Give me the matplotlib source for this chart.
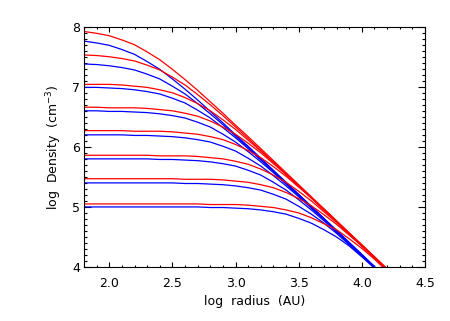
import numpy as np
import matplotlib
matplotlib.use('Agg')
import matplotlib.pyplot as plt
from matplotlib.ticker import MultipleLocator

# log radius grid (AU), shared by all profiles
log_r = [1.8, 1.9, 2.0, 2.1, 2.2, 2.3, 2.4, 2.5, 2.6, 2.7, 2.8, 2.9,
         3.0, 3.1, 3.2, 3.3, 3.4, 3.5, 3.6, 3.7, 3.8, 3.9, 4.0, 4.1]
log_r_red = log_r + [4.2]

# blue profiles, log density (cm^-3)
blue_1 = [7.76, 7.73, 7.69, 7.62, 7.54, 7.42, 7.29, 7.13, 6.96, 6.78, 6.59, 6.40,
          6.20, 6.01, 5.81, 5.61, 5.41, 5.21, 5.01, 4.81, 4.61, 4.41, 4.21, 4.01]
blue_2 = [7.38, 7.37, 7.35, 7.32, 7.28, 7.21, 7.13, 7.01, 6.88, 6.72, 6.55, 6.37,
          6.18, 5.99, 5.79, 5.60, 5.40, 5.20, 5.00, 4.80, 4.60, 4.40, 4.20, 4.00]
blue_3 = [6.99, 6.99, 6.98, 6.97, 6.95, 6.92, 6.88, 6.81, 6.73, 6.61, 6.48, 6.32,
          6.15, 5.97, 5.78, 5.59, 5.39, 5.20, 5.00, 4.80, 4.60, 4.40, 4.20, 4.00]
blue_4 = [6.60, 6.60, 6.59, 6.59, 6.58, 6.57, 6.55, 6.52, 6.48, 6.41, 6.33, 6.21,
          6.08, 5.92, 5.75, 5.57, 5.38, 5.19, 4.99, 4.80, 4.60, 4.40, 4.20, 4.00]
blue_5 = [6.20, 6.20, 6.20, 6.20, 6.19, 6.19, 6.18, 6.17, 6.15, 6.12, 6.08, 6.01,
          5.93, 5.81, 5.68, 5.52, 5.35, 5.17, 4.98, 4.79, 4.59, 4.40, 4.20, 4.00]
blue_6 = [5.80, 5.80, 5.80, 5.80, 5.80, 5.80, 5.79, 5.79, 5.78, 5.77, 5.75, 5.72,
          5.68, 5.61, 5.53, 5.41, 5.28, 5.12, 4.95, 4.77, 4.58, 4.39, 4.19, 4.00]
blue_7 = [5.40, 5.40, 5.40, 5.40, 5.40, 5.40, 5.40, 5.40, 5.39, 5.39, 5.38, 5.37,
          5.35, 5.32, 5.28, 5.21, 5.13, 5.01, 4.88, 4.73, 4.56, 4.37, 4.18, 3.99]
blue_8 = [5.00, 5.00, 5.00, 5.00, 5.00, 5.00, 5.00, 5.00, 5.00, 5.00, 4.99, 4.99,
          4.98, 4.97, 4.95, 4.92, 4.88, 4.81, 4.73, 4.62, 4.50, 4.35, 4.17, 3.98]

# red profiles, log density (cm^-3)
red_1 = [7.92, 7.89, 7.85, 7.78, 7.70, 7.58, 7.45, 7.29, 7.12, 6.94, 6.75, 6.56,
         6.36, 6.17, 5.97, 5.77, 5.57, 5.37, 5.17, 4.97, 4.77, 4.57, 4.37, 4.17, 3.97]
red_2 = [7.53, 7.52, 7.50, 7.47, 7.43, 7.36, 7.28, 7.16, 7.03, 6.87, 6.70, 6.52,
         6.33, 6.14, 5.94, 5.75, 5.55, 5.35, 5.15, 4.95, 4.75, 4.55, 4.35, 4.15, 3.95]
red_3 = [7.04, 7.04, 7.04, 7.03, 7.01, 6.99, 6.95, 6.90, 6.82, 6.72, 6.60, 6.45,
         6.29, 6.11, 5.93, 5.74, 5.54, 5.35, 5.15, 4.95, 4.75, 4.55, 4.35, 4.15, 3.95]
red_4 = [6.66, 6.66, 6.65, 6.65, 6.65, 6.64, 6.62, 6.60, 6.56, 6.51, 6.43, 6.33,
         6.21, 6.06, 5.90, 5.72, 5.54, 5.35, 5.15, 4.96, 4.76, 4.56, 4.36, 4.16, 3.96]
red_5 = [6.27, 6.27, 6.27, 6.27, 6.26, 6.26, 6.26, 6.25, 6.23, 6.21, 6.17, 6.12,
         6.04, 5.94, 5.82, 5.67, 5.51, 5.33, 5.15, 4.96, 4.76, 4.56, 4.37, 4.17, 3.97]
red_6 = [5.86, 5.86, 5.86, 5.86, 5.86, 5.86, 5.85, 5.85, 5.85, 5.84, 5.82, 5.80,
         5.76, 5.71, 5.63, 5.53, 5.41, 5.26, 5.10, 4.92, 4.74, 4.55, 4.35, 4.16, 3.96]
red_7 = [5.47, 5.47, 5.47, 5.47, 5.47, 5.47, 5.47, 5.47, 5.46, 5.46, 5.46, 5.45,
         5.43, 5.41, 5.37, 5.32, 5.24, 5.14, 5.02, 4.87, 4.71, 4.53, 4.35, 4.16, 3.96]
red_8 = [5.05, 5.05, 5.05, 5.05, 5.05, 5.05, 5.05, 5.05, 5.05, 5.05, 5.04, 5.04,
         5.04, 5.03, 5.01, 4.99, 4.95, 4.90, 4.82, 4.72, 4.62, 4.47, 4.31, 4.13, 3.93]

blue_profiles = [blue_1, blue_2, blue_3, blue_4, blue_5, blue_6, blue_7, blue_8]
red_profiles = [red_1, red_2, red_3, red_4, red_5, red_6, red_7, red_8]

plt.rcParams['font.family'] = 'DejaVu Sans'

fig = plt.figure(figsize=(4.5, 3.21), dpi=100)
ax = fig.add_axes([0.1867, 0.1682, 0.7577, 0.7486])

for prof in blue_profiles:
    ax.plot(log_r, prof, color='#0000ff', lw=0.9)
for prof in red_profiles:
    ax.plot(log_r_red, prof, color='#ff0000', lw=0.9)

ax.set_xlim(1.8, 4.5)
ax.set_ylim(4, 8)
ax.xaxis.set_major_locator(MultipleLocator(0.5))
ax.xaxis.set_minor_locator(MultipleLocator(0.1))
ax.yaxis.set_major_locator(MultipleLocator(1))
ax.yaxis.set_minor_locator(MultipleLocator(0.1))

ax.tick_params(axis='both', which='both', direction='in', top=True, right=True,
               width=0.8, labelsize=9)
ax.tick_params(axis='x', which='major', length=3.5, pad=7)
ax.tick_params(axis='x', which='minor', length=1.7)
ax.tick_params(axis='y', which='major', length=4.9, pad=3)
ax.tick_params(axis='y', which='minor', length=2.5)
for sp in ax.spines.values():
    sp.set_linewidth(0.8)

ax.set_xlabel('log  radius  (AU)', fontsize=9, labelpad=4)
ax.set_ylabel(r'log  Density  (cm$^{-3}$)', fontsize=9, labelpad=6)

plt.savefig('out.png', dpi=100)
plt.close(fig)
